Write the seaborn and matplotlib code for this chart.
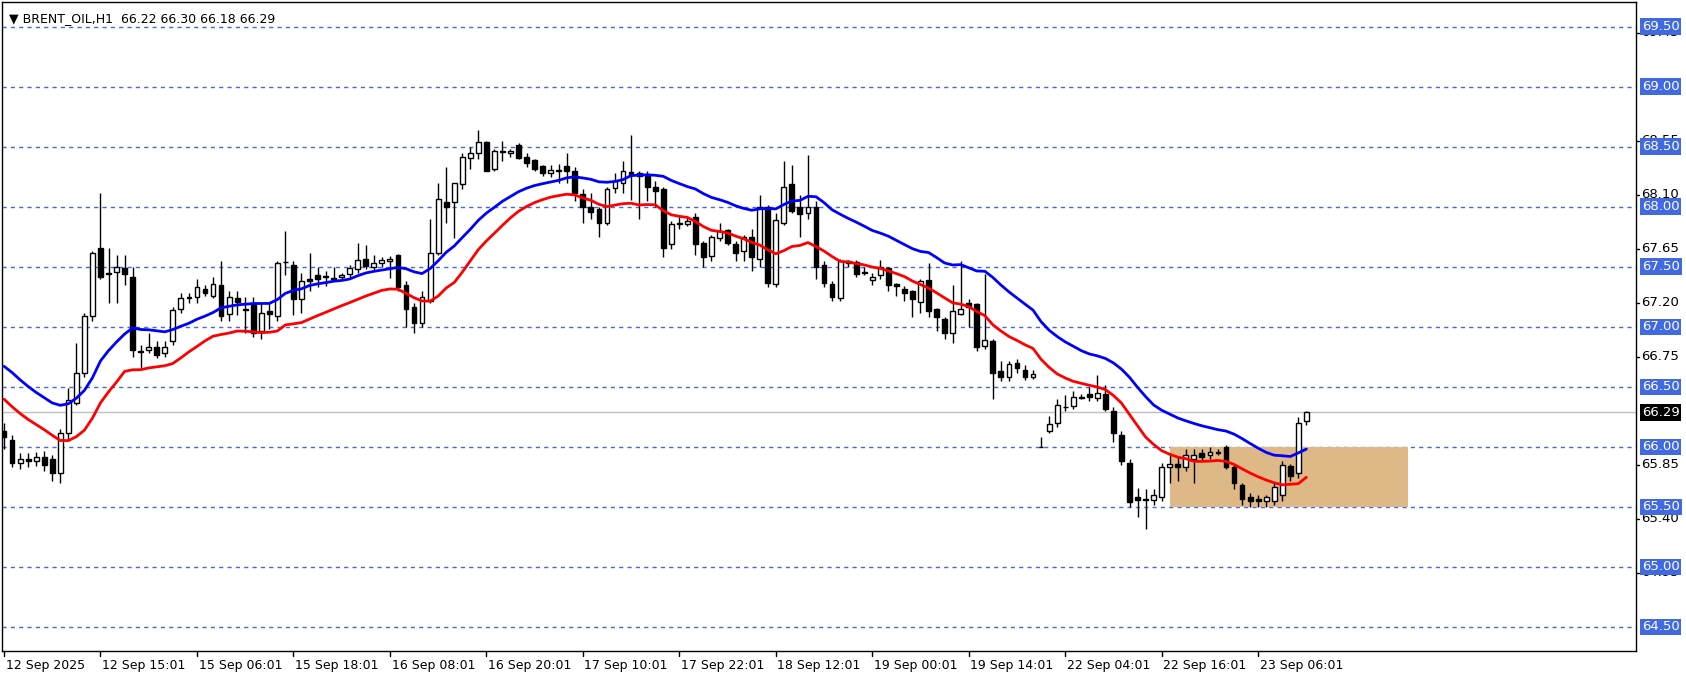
import numpy as np
import pandas as pd
import matplotlib
matplotlib.use("Agg")
import matplotlib.pyplot as plt
import seaborn as sns

# OHLC per hourly bar
opens = [66.13,66.06,65.87,65.90,65.88,65.92,65.90,65.78,66.12,66.37,66.62,67.09,67.66,67.44,67.46,67.49,67.42,66.80,66.81,66.83,
         66.78,66.88,67.15,67.24,67.25,67.32,67.26,67.35,67.11,67.24,67.15,67.20,66.97,67.13,67.09,67.54,67.52,67.23,67.40,67.43,
         67.42,67.40,67.42,67.44,67.48,67.57,67.50,67.53,67.55,67.60,67.35,67.17,67.03,67.22,67.62,68.04,68.04,68.19,68.41,68.45,
         68.54,68.32,68.47,68.45,68.52,68.42,68.39,68.34,68.28,68.30,68.34,68.30,68.11,68.00,67.98,67.87,68.16,68.20,68.29,68.28,
         68.27,68.17,68.15,67.69,67.87,67.86,67.92,67.70,67.59,67.74,67.81,67.69,67.63,67.75,67.57,68.00,67.36,67.87,68.19,68.00,
         67.95,68.00,67.52,67.36,67.24,67.55,67.54,67.45,67.39,67.43,67.49,67.36,67.32,67.30,67.21,67.39,67.15,67.07,66.95,67.11,
         67.20,67.19,66.84,66.88,66.63,66.58,66.70,66.64,66.58,66.00,66.13,66.20,66.33,66.34,66.41,66.44,66.41,66.44,66.30,66.10,
         65.87,65.58,65.56,65.56,65.58,65.83,65.86,65.83,65.90,65.95,65.93,65.96,66.00,65.83,65.68,65.58,65.57,65.55,65.55,65.60,
         65.84,65.78,66.22]
closes = [66.08,65.87,65.90,65.88,65.92,65.85,65.78,66.12,66.39,66.62,67.09,67.62,67.42,67.45,67.50,67.44,66.81,66.79,66.83,66.77,
          66.83,67.14,67.24,67.25,67.33,67.28,67.36,67.09,67.25,67.21,67.14,66.95,67.12,67.11,67.53,67.54,67.23,67.38,67.38,67.40,
          67.42,67.41,67.43,67.49,67.56,67.51,67.53,67.56,67.57,67.33,67.15,67.03,67.25,67.62,68.07,68.00,68.20,68.42,68.45,68.54,
          68.30,68.47,68.46,68.47,68.41,68.37,68.32,68.28,68.31,68.31,68.30,68.12,68.00,67.96,67.87,68.15,68.22,68.30,68.27,68.26,
          68.17,68.13,67.66,67.86,67.86,67.88,67.69,67.58,67.75,67.80,67.70,67.62,67.75,67.58,68.00,67.37,67.89,68.17,67.97,67.94,
          68.00,67.50,67.37,67.25,67.55,67.53,67.44,67.45,67.42,67.50,67.35,67.34,67.28,67.23,67.38,67.13,67.08,66.95,67.13,67.15,
          67.17,66.83,66.89,66.62,66.58,66.69,66.66,66.58,66.61,66.00,66.19,66.35,66.33,66.42,66.42,66.42,66.45,66.32,66.12,65.88,
          65.54,65.56,65.57,65.60,65.83,65.86,65.83,65.93,65.93,65.92,65.96,65.95,65.83,65.70,65.57,65.55,65.55,65.58,65.67,65.85,
          65.76,66.20,66.29]
highs = [66.20,66.10,65.95,65.95,65.96,65.97,65.93,66.15,66.49,66.87,67.12,67.63,68.12,67.66,67.60,67.60,67.50,66.85,66.95,66.88,
         66.88,67.17,67.28,67.28,67.40,67.35,67.42,67.55,67.30,67.30,67.25,67.25,67.20,67.20,67.55,67.80,67.55,67.45,67.62,67.50,
         67.47,67.50,67.45,67.52,67.70,67.68,67.60,67.58,67.59,67.61,67.38,67.20,67.30,67.90,68.20,68.33,68.20,68.45,68.50,68.64,
         68.55,68.48,68.55,68.48,68.53,68.45,68.40,68.35,68.35,68.36,68.45,68.33,68.15,68.12,68.00,68.17,68.28,68.38,68.60,68.30,
         68.30,68.22,68.17,67.88,67.93,67.92,67.95,67.72,67.77,67.87,67.82,67.72,67.77,67.82,68.10,68.02,67.95,68.38,68.35,68.10,
         68.43,68.05,67.55,67.38,67.57,67.56,67.56,67.50,67.45,67.56,67.50,67.37,67.34,67.31,67.40,67.53,67.16,67.08,67.35,67.55,
         67.23,67.20,67.44,66.90,66.72,66.72,66.73,66.68,66.64,66.08,66.26,66.40,66.43,66.47,66.44,66.50,66.60,66.52,66.33,66.13,
         65.90,65.66,65.65,65.65,65.87,65.95,65.92,65.98,65.98,65.98,66.00,65.98,66.02,65.85,65.70,65.62,65.60,65.60,65.70,65.88,
         65.86,66.25,66.30]
lows = [65.98,65.83,65.82,65.83,65.84,65.80,65.72,65.70,66.05,66.35,66.58,67.05,67.40,67.20,67.20,67.35,66.75,66.65,66.78,66.74,
        66.75,66.85,67.12,67.20,67.20,67.26,67.24,67.05,67.05,67.10,66.95,66.92,66.90,66.98,67.05,67.43,67.10,67.12,67.30,67.33,
        67.34,67.38,67.40,67.41,67.45,67.48,67.47,67.50,67.41,67.30,67.00,66.95,67.00,67.20,67.60,67.87,67.74,68.15,68.32,68.40,
        68.30,68.30,68.38,68.42,68.40,68.33,68.30,68.26,68.25,68.20,68.20,68.05,67.87,67.90,67.75,67.85,68.12,68.12,68.06,67.90,
        68.05,68.00,67.58,67.65,67.82,67.84,67.60,67.50,67.55,67.72,67.68,67.55,67.55,67.47,67.50,67.33,67.33,67.85,67.95,67.75,
        67.90,67.40,67.33,67.22,67.22,67.50,67.42,67.43,67.35,67.40,67.30,67.26,67.22,67.08,67.12,67.08,66.97,66.90,66.87,67.10,
        67.00,66.80,66.82,66.40,66.55,66.55,66.62,66.56,66.57,66.00,66.12,66.17,66.30,66.32,66.40,66.38,66.38,66.30,66.04,65.85,
        65.50,65.42,65.32,65.52,65.55,65.70,65.72,65.80,65.70,65.88,65.90,65.93,65.82,65.65,65.52,65.50,65.50,65.50,65.52,65.55,
        65.72,65.74,66.18]

tick_labels = ["12 Sep 2025", "12 Sep 15:01", "15 Sep 06:01", "15 Sep 18:01", "16 Sep 08:01", "16 Sep 20:01",
               "17 Sep 10:01", "17 Sep 22:01", "18 Sep 12:01", "19 Sep 00:01", "19 Sep 14:01", "22 Sep 04:01",
               "22 Sep 16:01", "23 Sep 06:01"]
level_labels = [69.50, 69.00, 68.50, 68.00, 67.50, 67.00, 66.50, 66.00, 65.50, 65.00, 64.50]
scale_labels = [69.45, 68.55, 68.10, 67.65, 67.20, 66.75, 65.85, 65.40, 64.95]
zone_low, zone_high = 65.50, 66.00
zone_start, zone_end = 145, 174.6
last_price = 66.29
ma_seed_blue, ma_seed_red = 66.72, 66.45

df = pd.DataFrame({"o": opens, "h": highs, "l": lows, "c": closes})
df["i"] = np.arange(len(df))

def ema(vals, seed, alpha=2/22):
    out, v = [], seed
    for x in vals:
        v = v + alpha * (x - v)
        out.append(v)
    return out

df["blue"] = ema(df["h"], ma_seed_blue)
df["red"] = ema(df["l"], ma_seed_red, alpha=0.11)

sns.set_style("white")
plt.rcParams['font.family'] = ['DejaVu Sans']
fig = plt.figure(figsize=(16.86, 6.75), dpi=100)
ax = fig.add_axes([2/1686, 24/675, 1634/1686, 649/675])
ax.set_xlim(-0.25, 203)
ax.set_ylim(64.30, 69.708)

for lv in level_labels:
    ax.axhline(lv, color="#4169E1", lw=1, ls=(0, (3, 3)), zorder=1)
ax.axhline(last_price, color="#c0c0c0", lw=1, zorder=1)
ax.add_patch(plt.Rectangle((zone_start, zone_low), zone_end - zone_start, zone_high - zone_low,
                           color="#DEB887", zorder=1.5, lw=0))

w = 0.6
for r in df.itertuples():
    ax.vlines(r.i, r.l, r.h, color="black", lw=1, zorder=3)
    bot, top = min(r.o, r.c), max(r.o, r.c)
    ht = max(top - bot, 0.004)
    fc = "white" if r.c >= r.o else "black"
    ax.add_patch(plt.Rectangle((r.i - w/2, bot), w, ht, facecolor=fc, edgecolor="black", lw=1, zorder=4))

sns.lineplot(data=df, x="i", y="blue", color="#0000ff", lw=2, ax=ax, zorder=5)
sns.lineplot(data=df, x="i", y="red", color="#ff0000", lw=2, ax=ax, zorder=5)
ax.set_xlabel(""); ax.set_ylabel("")

ax.set_yticks([]); ax.set_xticks([])
for s in ax.spines.values():
    s.set_color("black"); s.set_linewidth(1)

fs = 9.5
trans = ax.get_yaxis_transform()
for v in scale_labels:
    ax.text(1.003, v, f"{v:.2f}", transform=trans, va="center", ha="left", fontsize=fs, color="black")
    ax.plot([1.0, 1.002], [v, v], transform=trans, color="black", lw=1, clip_on=False)
for v in level_labels:
    ax.text(1.0035, v, f"{v:.2f}", transform=trans, va="center", ha="left", fontsize=fs, color="white",
            bbox=dict(boxstyle="square,pad=0.15", fc="#4169E1", ec="none"), zorder=10)
ax.text(1.0035, last_price, f"{last_price:.2f}", transform=trans, va="center", ha="left", fontsize=fs,
        color="white", bbox=dict(boxstyle="square,pad=0.15", fc="black", ec="none"), zorder=10)

xt = ax.get_xaxis_transform()
for k, lab in enumerate(tick_labels):
    x = k * 12
    ax.plot([x, x], [0, -0.008], transform=xt, color="black", lw=1, clip_on=False)
    ax.text(x + 0.2, -0.012, lab, transform=xt, va="top", ha="left", fontsize=9, color="black")

ax.text(0.004, 0.985, "\u25bc BRENT_OIL,H1  66.22 66.30 66.18 66.29", transform=ax.transAxes,
        va="top", ha="left", fontsize=9, color="black")

fig.savefig("out.png", dpi=100)
